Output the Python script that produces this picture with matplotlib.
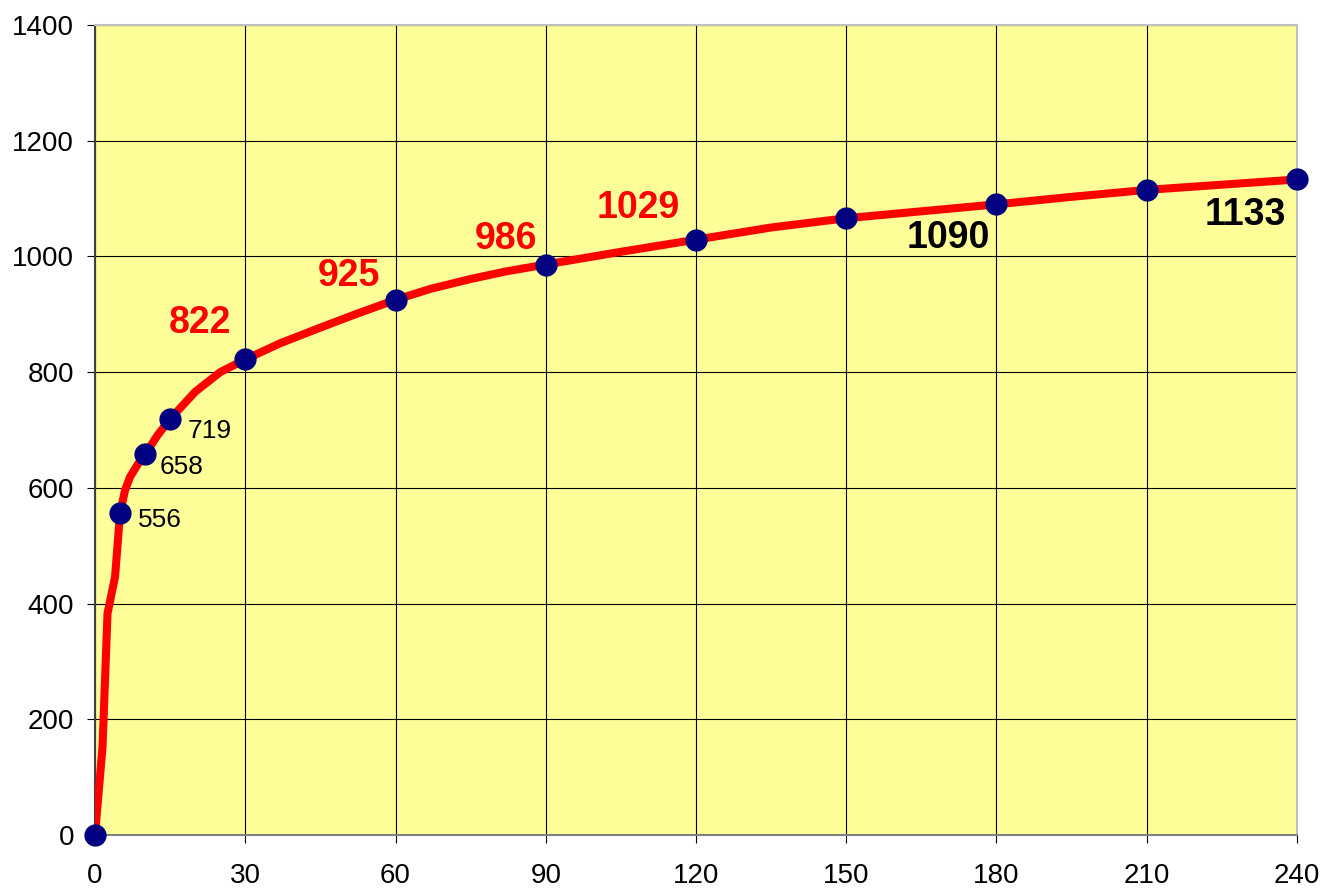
import matplotlib
matplotlib.use("Agg")
import matplotlib.pyplot as plt

plt.rcParams['font.family'] = ['Liberation Sans', 'DejaVu Sans']

# measured points (markers)
times = [0, 5, 10, 15, 30, 60, 90, 120, 150, 180, 210, 240]
values = [0, 556, 658, 719, 822, 925, 986, 1029, 1066, 1090, 1115, 1133]

# red line drawn through more readings
line_x = [0, 1.5, 2.5, 4, 5, 6, 7, 8.5, 10, 12.5, 15, 20, 25, 30, 37, 45, 52, 60, 67, 75, 82, 90,
          105, 120, 135, 150, 165, 180, 195, 210, 225, 240]
line_y = [0, 152, 383, 446, 556, 596, 619, 640, 658, 691, 719, 766, 800, 822, 850, 877, 900, 925, 944,
          961, 974, 986, 1008, 1029, 1050, 1066, 1078, 1090, 1103, 1115, 1124, 1133]

# data labels: (index, text offset in points, style)
small_labels = [1, 2, 3]
small_offsets = [(28.4, -5.0), (26.6, -9.4), (28.8, -8.6)]
red_labels = [4, 5, 6, 7]
red_offsets = [(-32.4, 25.9), (-33.8, 17.3), (-28.8, 18.7), (-41.8, 23.0)]
black_labels = [9, 11]
black_offsets = [(-34.6, -24.5), (-37.4, -25.9)]

fig = plt.figure(figsize=(13.23, 8.91), dpi=100)
ax = fig.add_axes([95 / 1323, 56 / 891, 1202 / 1323, 810 / 891])
ax.set_facecolor('#FFFF99')

ax.plot(line_x, line_y, color='#FF0000', linewidth=5.8, solid_joinstyle='round', zorder=3)
ax.plot(times, values, linestyle='none', marker='o', markersize=15,
        color='#000080', zorder=4, clip_on=False)

for i, off in zip(small_labels, small_offsets):
    ax.annotate(str(values[i]), (times[i], values[i]), xytext=off, textcoords='offset points',
                ha='center', va='center', fontsize=19, color='black')
for i, off in zip(red_labels, red_offsets):
    ax.annotate(str(values[i]), (times[i], values[i]), xytext=off, textcoords='offset points',
                ha='center', va='center', fontsize=27, fontweight='bold', color='#FF0000')
for i, off in zip(black_labels, black_offsets):
    ax.annotate(str(values[i]), (times[i], values[i]), xytext=off, textcoords='offset points',
                ha='center', va='center', fontsize=27, fontweight='bold', color='black')

ax.set_xlim(0, 240)
ax.set_ylim(0, 1400)
ax.set_xticks(range(0, 241, 30))
ax.set_yticks(range(0, 1401, 200))
ax.grid(True, color='black', linewidth=0.8)
ax.set_axisbelow(True)
ax.tick_params(axis='both', direction='out', length=6, width=0.8, labelsize=20)
ax.tick_params(axis='y', pad=9)
ax.tick_params(axis='x', pad=14)

ax.spines['left'].set_color('#404040')
ax.spines['bottom'].set_color('#808080')
ax.spines['top'].set_color('#C0C0C0')
ax.spines['right'].set_color('#C0C0C0')
for s in ax.spines.values():
    s.set_linewidth(1.5)

fig.savefig('out.png', dpi=100)
